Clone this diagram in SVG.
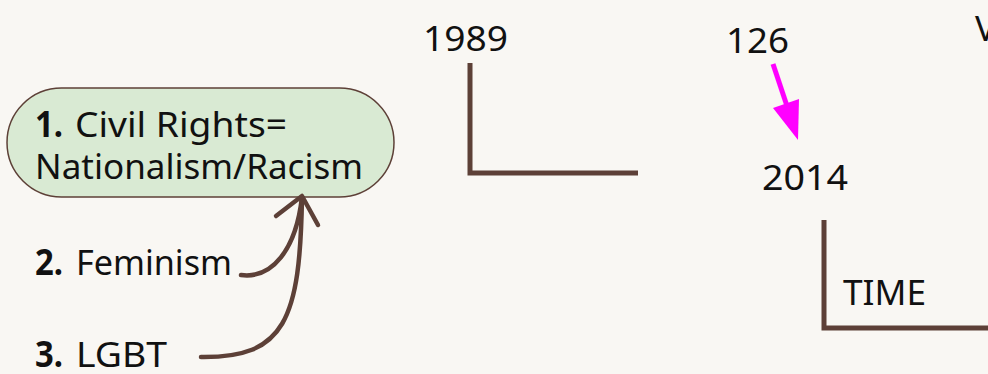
<svg xmlns="http://www.w3.org/2000/svg" width="988" height="374" viewBox="0 0 988 374">
<style>
text { font-family: "Noto Sans", "Open Sans", sans-serif; font-size: 35px; fill: #111; }
.b { font-weight: bold; }
.ln { fill: none; stroke: #5d4037; stroke-width: 5; }
.cv { fill: none; stroke: #5d4037; stroke-width: 4.5; stroke-linecap: round; stroke-linejoin: round; }
</style>
<rect width="988" height="374" fill="#f9f7f3"/>
<g id="civil-rights">
<rect x="7" y="88" width="387" height="109" rx="54.5" fill="#d9ead3" stroke="#5d4037" stroke-width="1.5"/>
<text class="b" x="35" y="137" textLength="28" lengthAdjust="spacingAndGlyphs">1.</text>
<text x="75" y="137" textLength="212" lengthAdjust="spacingAndGlyphs">Civil Rights=</text>
<text x="35" y="179" textLength="328" lengthAdjust="spacingAndGlyphs">Nationalism/Racism</text>
</g>
<g id="feminism">
<text class="b" x="35" y="275" textLength="28" lengthAdjust="spacingAndGlyphs">2.</text>
<text x="76" y="275" textLength="156" lengthAdjust="spacingAndGlyphs">Feminism</text>
</g>
<g id="lgbt">
<text class="b" x="35" y="367" textLength="28" lengthAdjust="spacingAndGlyphs">3.</text>
<text x="76" y="367" textLength="91" lengthAdjust="spacingAndGlyphs">LGBT</text>
</g>
<g id="y1989">
<text x="423" y="51" textLength="85" lengthAdjust="spacingAndGlyphs">1989</text>
<path class="ln" d="M470,63 V173 H638"/>
</g>
<g id="n126">
<text x="726" y="53" textLength="63" lengthAdjust="spacingAndGlyphs">126</text>
</g>
<g id="y2014">
<text x="762" y="190" textLength="86" lengthAdjust="spacingAndGlyphs">2014</text>
</g>
<g id="time">
<text x="843" y="305" textLength="83" lengthAdjust="spacingAndGlyphs">TIME</text>
<path class="ln" d="M824,220 V328 H990"/>
</g>
<g id="v">
<text x="975" y="41">V</text>
</g>
<g id="connectors">
<path class="cv" d="M241,275 C272,279 296,250 302,197"/>
<path class="cv" d="M201,357 C285,358 300,320 302,197"/>
<path class="cv" d="M276,216 L302,196 L318,225"/>
<line x1="773" y1="64" x2="787" y2="106" stroke="#ff00ff" stroke-width="5"/>
<polygon points="773,108 799,99 798,140" fill="#ff00ff"/>
</g>
</svg>
